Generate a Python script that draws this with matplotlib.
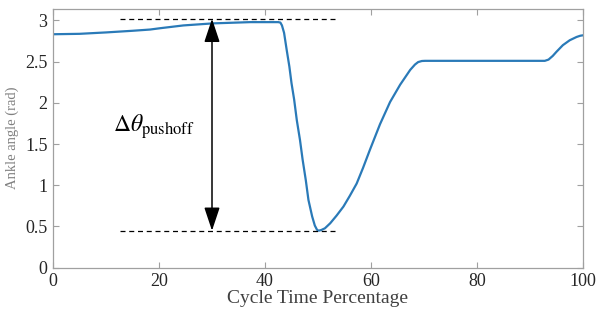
import numpy as np
import matplotlib.pyplot as plt

plt.rcParams['font.family'] = ['Liberation Serif', 'DejaVu Serif']
plt.rcParams['mathtext.fontset'] = 'stix'

# ankle angle trajectory
cycle_pct = [0, 5, 10, 15, 18.3, 20.2, 24.6, 30.2, 37.2, 42.5,
             42.9, 43.2, 43.6, 44.1, 44.6, 45.0, 45.5, 46.0, 46.6, 47.1, 47.7,
             48.2, 48.9, 49.4, 49.8, 50.1, 50.6, 51.3, 52.3, 53.5, 54.8, 56.0,
             57.3, 58.5, 59.8, 61.7, 63.6, 65.5, 67.4, 68.3, 68.9, 69.6, 70.2,
             75, 80, 85, 90, 92.8, 93.5, 94.3, 95.0, 96.2, 97.5, 98.8, 99.5, 100]
ankle_rad = [2.833, 2.838, 2.855, 2.875, 2.89, 2.906, 2.94, 2.965, 2.98, 2.98,
             2.975, 2.94, 2.85, 2.64, 2.44, 2.24, 2.04, 1.79, 1.55, 1.31, 1.06,
             0.82, 0.62, 0.51, 0.46, 0.447, 0.455, 0.476, 0.537, 0.63, 0.74, 0.87,
             1.02, 1.21, 1.43, 1.74, 2.01, 2.22, 2.40, 2.465, 2.495, 2.508, 2.51,
             2.51, 2.51, 2.51, 2.51, 2.51, 2.525, 2.57, 2.62, 2.70, 2.76, 2.80, 2.815, 2.82]

theta_max = 3.02
theta_min = 0.447
ref_x = [12.6, 53.6]
arrow_x = 30

fig = plt.figure(figsize=(5.97, 3.2), dpi=100)
ax = fig.add_axes([0.0888, 0.164, 0.8877, 0.808])

ax.plot(cycle_pct, ankle_rad, color='#2a7ab8', lw=1.6, solid_joinstyle='round')

# reference lines at the peak and the minimum
ax.plot(ref_x, [theta_max, theta_max], 'k--', lw=0.9, dashes=(4, 3))
ax.plot(ref_x, [theta_min, theta_min], 'k--', lw=0.9, dashes=(4, 3))

ax.annotate('', xy=(arrow_x, theta_max), xytext=(arrow_x, theta_min),
            arrowprops=dict(arrowstyle='<|-|>,head_length=0.72,head_width=0.24',
                            color='k', lw=1.1, mutation_scale=20,
                            shrinkA=0, shrinkB=0))
ax.text(11.3, 1.71, r'$\Delta\theta_{\rm pushoff}$', fontsize=17,
        va='center', ha='left')

ax.set_xlim(0, 100)
ax.set_ylim(0, 3.14)
ax.set_xticks([0, 20, 40, 60, 80, 100])
ax.set_yticks([0, 0.5, 1, 1.5, 2, 2.5, 3])
ax.set_yticklabels(['0', '0.5', '1', '1.5', '2', '2.5', '3'])
ax.tick_params(direction='in', top=True, right=True, length=4, width=0.8,
               color='#a0a0a0', labelsize=13, labelcolor='#262626', pad=4)
for sp in ax.spines.values():
    sp.set_color('#a0a0a0')
    sp.set_linewidth(0.9)

ax.set_xlabel('Cycle Time Percentage', fontsize=14, color='#404040', labelpad=0)
ax.set_ylabel('Ankle angle (rad)', fontsize=10.5, color='#808080', labelpad=4)

fig.savefig('out.png', dpi=100)
